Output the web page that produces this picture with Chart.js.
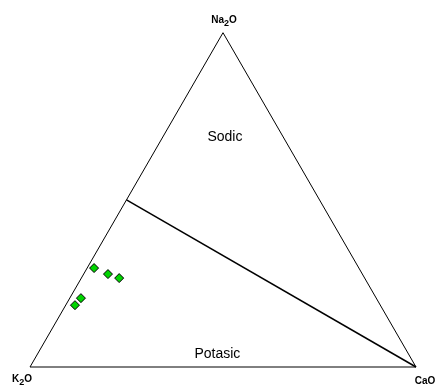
<!DOCTYPE html>
<html>
<head>
<meta charset="utf-8">
<script src="https://cdn.jsdelivr.net/npm/chart.js@4"></script>
<style>
  html, body { margin: 0; padding: 0; background: #fff; }
  #ternary { display: block; }
</style>
</head>
<body>
<canvas id="ternary" width="440" height="390"></canvas>
<script>
// sample compositions, % of Na2O + K2O + CaO
const na2o = [29.6, 27.8, 26.6, 20.6, 18.5];
const k2o  = [68.6, 65.9, 63.6, 76.5, 79.1];
const cao  = [1.8, 6.3, 9.8, 2.9, 2.4];

const apexLabels = ["Na2O", "K2O", "CaO"];
const fieldLabels = ["Sodic", "Potasic"];

const H = Math.sqrt(3) / 2;

// ternary -> cartesian, K2O at (0,0), CaO at (1,0), Na2O at top
function toXY(na, k, ca) {
  const s = na + k + ca;
  return { x: (ca + na / 2) / s, y: (na / s) * H };
}

const samples = na2o.map((v, i) => toXY(v, k2o[i], cao[i]));

const triangle = [toXY(0, 100, 0), toXY(0, 0, 100), toXY(100, 0, 0), toXY(0, 100, 0)];
// Na2O = K2O boundary, from the K2O-Na2O side to the CaO corner
const divider = [toXY(50, 50, 0), toXY(0, 0, 100)];

function drawChem(ctx, text, x, y) {
  // digits drawn as subscripts
  const parts = text.split(/(\d)/).filter(Boolean);
  const big = "bold 10px 'Liberation Sans', Arial, sans-serif";
  const small = "bold 9px 'Liberation Sans', Arial, sans-serif";
  let w = 0;
  parts.forEach(p => { ctx.font = /\d/.test(p) ? small : big; w += ctx.measureText(p).width; });
  let cx = x - w / 2;
  ctx.textAlign = "left";
  ctx.textBaseline = "alphabetic";
  parts.forEach(p => {
    const sub = /\d/.test(p);
    ctx.font = sub ? small : big;
    ctx.fillText(p, cx, sub ? y + 3 : y);
    cx += ctx.measureText(p).width;
  });
}

const labelPlugin = {
  id: "ternaryLabels",
  afterDatasetsDraw(chart) {
    const { ctx, scales } = chart;
    const px = p => ({ x: scales.x.getPixelForValue(p.x), y: scales.y.getPixelForValue(p.y) });
    ctx.save();
    ctx.fillStyle = "#000";
    const top = px(toXY(100, 0, 0));
    const left = px(toXY(0, 100, 0));
    const right = px(toXY(0, 0, 100));
    drawChem(ctx, apexLabels[0], top.x + 1, top.y - 10);
    drawChem(ctx, apexLabels[1], left.x - 8, left.y + 15);
    drawChem(ctx, apexLabels[2], right.x + 9, right.y + 17);

    ctx.font = "14px 'Liberation Sans', Arial, sans-serif";
    ctx.textAlign = "center";
    ctx.textBaseline = "alphabetic";
    const sodic = px(toXY(67.6, 15.7, 16.7));
    ctx.fillText(fieldLabels[0], sodic.x, sodic.y);
    const potasic = px(toXY(2.7, 50.1, 47.2));
    ctx.fillText(fieldLabels[1], potasic.x, potasic.y);
    ctx.restore();
  }
};

new Chart(document.getElementById("ternary"), {
  type: "scatter",
  data: {
    datasets: [
      {
        label: "frame",
        data: triangle,
        showLine: true,
        borderColor: "#000",
        borderWidth: 1,
        pointRadius: 0,
        fill: false,
      },
      {
        label: "divider",
        data: divider,
        showLine: true,
        borderColor: "#000",
        borderWidth: 1.5,
        pointRadius: 0,
      },
      {
        label: "samples",
        data: samples,
        pointStyle: "rectRot",
        pointRadius: 4.5,
        backgroundColor: "#00d400",
        borderColor: "#000",
        borderWidth: 1,
      },
    ],
  },
  options: {
    responsive: false,
    animation: false,
    layout: { padding: 0, autoPadding: false },
    plugins: {
      legend: { display: false },
      tooltip: { enabled: false },
    },
    scales: {
      x: { display: false, min: -30 / 386, max: 410 / 386 },
      y: { display: false, min: -23 / 386, max: 367 / 386 },
    },
  },
  plugins: [labelPlugin],
});
</script>
</body>
</html>
